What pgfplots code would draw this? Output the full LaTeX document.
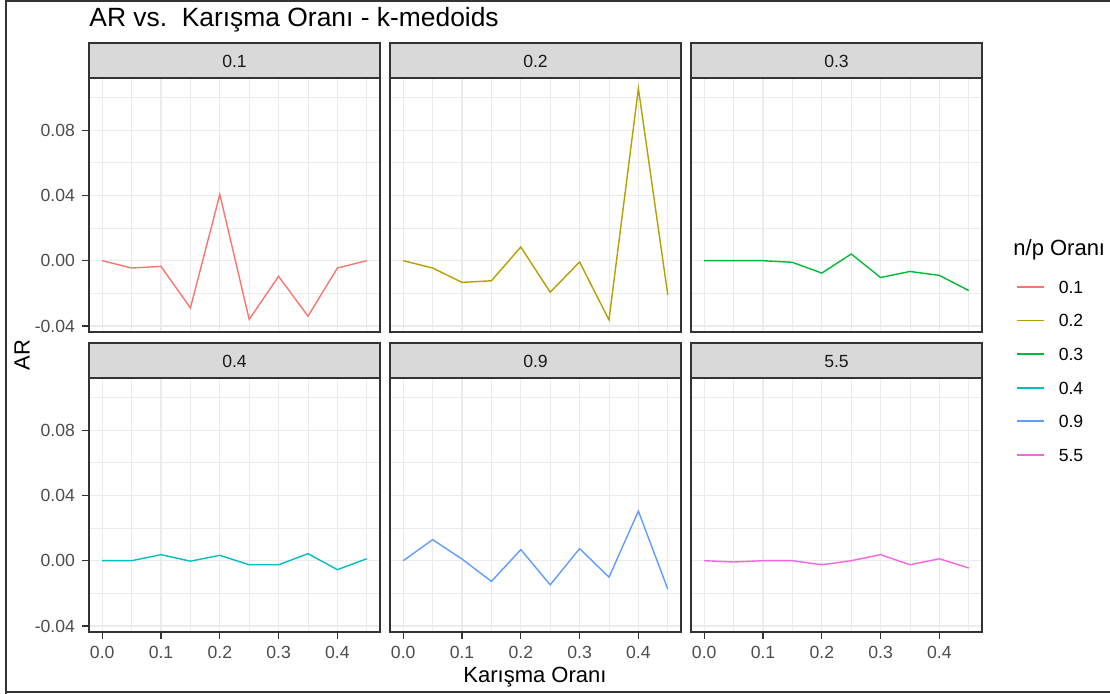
\documentclass[border=0pt]{standalone}
\usepackage{pgfplots}
\pgfplotsset{compat=1.18}
\usepackage{fontspec}
\setmainfont{Liberation Sans}
\definecolor{c1}{HTML}{F8766D}
\definecolor{c2}{HTML}{B79F00}
\definecolor{c3}{HTML}{00BA38}
\definecolor{c4}{HTML}{00BFC4}
\definecolor{c5}{HTML}{619CFF}
\definecolor{c6}{HTML}{F564E3}
\definecolor{gridgrey}{HTML}{EBEBEB}
\definecolor{bordergrey}{HTML}{333333}
\definecolor{tickgrey}{HTML}{4D4D4D}
\definecolor{stripgrey}{HTML}{D9D9D9}
\definecolor{striptext}{HTML}{1A1A1A}

\pgfplotstableread{
x y
0    0
0.05 -0.0045
0.10 -0.0035
0.15 -0.029
0.20 0.0406
0.25 -0.036
0.30 -0.0096
0.35 -0.034
0.40 -0.0045
0.45 0.0
}\tA
\pgfplotstableread{
x y
0    0
0.05 -0.0045
0.10 -0.0133
0.15 -0.0123
0.20 0.0084
0.25 -0.0193
0.30 -0.0008
0.35 -0.0363
0.40 0.1056
0.45 -0.0209
}\tB
\pgfplotstableread{
x y
0    0
0.05 0
0.10 0
0.15 -0.0010
0.20 -0.0076
0.25 0.0041
0.30 -0.0103
0.35 -0.0066
0.40 -0.0090
0.45 -0.0183
}\tC
\pgfplotstableread{
x y
0    0
0.05 0
0.10 0.0037
0.15 -0.0003
0.20 0.0033
0.25 -0.0025
0.30 -0.0025
0.35 0.0043
0.40 -0.0055
0.45 0.0012
}\tD
\pgfplotstableread{
x y
0    0
0.05 0.0129
0.10 0.0010
0.15 -0.0127
0.20 0.0068
0.25 -0.0148
0.30 0.0074
0.35 -0.0101
0.40 0.0304
0.45 -0.0174
}\tE
\pgfplotstableread{
x y
0    0
0.05 -0.0008
0.10 0
0.15 0
0.20 -0.0025
0.25 0
0.30 0.0037
0.35 -0.0025
0.40 0.0012
0.45 -0.0045
}\tF

\pgfplotsset{
  facet/.style={
    scale only axis, width=145.5pt, height=127pt, anchor=south west,
    xmin=-0.0225, xmax=0.4725, ymin=-0.0437, ymax=0.112,
    xtick={0,0.1,0.2,0.3,0.4}, minor xtick={0.05,0.15,0.25,0.35,0.45},
    ytick={-0.04,0,0.04,0.08}, minor ytick={-0.02,0.02,0.06,0.10},
    grid=both,
    major grid style={line width=0.6pt, draw=gridgrey},
    minor grid style={line width=0.4pt, draw=gridgrey},
    axis line style={line width=0.8pt, draw=bordergrey},
    tick align=outside, tick pos=left,
    major tick length=3.5pt, minor tick length=0pt,
    major tick style={line width=0.6pt, draw=bordergrey},
    ticklabel style={font=\fontsize{8.8}{10}\selectfont, text=tickgrey},
    /pgf/number format/assume math mode=true,
    xticklabel style={/pgf/number format/fixed, /pgf/number format/fixed zerofill, /pgf/number format/precision=1},
    yticklabel style={/pgf/number format/fixed, /pgf/number format/fixed zerofill, /pgf/number format/precision=2},
    every axis plot/.append style={line width=0.7pt, mark=none},
  },
  noxlab/.style={xticklabels={}, xtick style={draw=none}},
  noylab/.style={yticklabels={}, ytick style={draw=none}},
}

\begin{document}
\begin{tikzpicture}
\useasboundingbox (0,0) rectangle (555pt,347pt);
% outer frame
\draw[line width=1pt, draw=black!80] (3pt,-1pt) -- (3pt,346.5pt) -- (560pt,346.5pt);
\draw[line width=1pt, draw=black!80] (3pt,1pt) -- (560pt,1pt);

% title and axis titles
\node[anchor=base west, font=\fontsize{13.2}{15}\selectfont, inner sep=0pt] at (44.5pt,333.6pt) {AR vs.\ \ Karışma Oranı - k-medoids};
\node[rotate=90, font=\fontsize{11}{13}\selectfont, inner sep=0pt] at (11pt,169.5pt) {AR};
\node[anchor=base, font=\fontsize{11}{13}\selectfont, inner sep=0pt] at (267.5pt,5.5pt) {Karışma Oranı};

% row 1
\begin{axis}[facet, noxlab, at={(44.5pt,181pt)}]
\addplot[c1] table {\tA};
\end{axis}
\begin{axis}[facet, noxlab, noylab, at={(195pt,181pt)}]
\addplot[c2] table {\tB};
\end{axis}
\begin{axis}[facet, noxlab, noylab, at={(345.5pt,181pt)},
  legend style={draw=none, fill=none, at={(axis description cs:1.1168,0.2024)}, anchor=north west,
    inner sep=0pt, outer sep=0pt, font=\fontsize{8.8}{10}\selectfont,
    nodes={inner sep=0pt, text height=6.4pt, text depth=0pt},
    row sep=10.4pt, /tikz/every odd column/.append style={column sep=7pt}},
  legend cell align=left,
  legend image code/.code={\draw[#1, line width=0.9pt] (0pt,0pt) -- (13.5pt,0pt);}]
\addplot[c3] table {\tC};
\addlegendimage{c1}
\addlegendimage{c2}
\addlegendimage{c3}
\addlegendimage{c4}
\addlegendimage{c5}
\addlegendimage{c6}
\legend{,0.1,0.2,0.3,0.4,0.9,5.5}
\end{axis}
% row 2
\begin{axis}[facet, at={(44.5pt,31pt)}]
\addplot[c4] table {\tD};
\end{axis}
\begin{axis}[facet, noylab, at={(195pt,31pt)}]
\addplot[c5] table {\tE};
\end{axis}
\begin{axis}[facet, noylab, at={(345.5pt,31pt)}]
\addplot[c6] table {\tF};
\end{axis}

% strips
\foreach \xx/\yy/\lab in {44.5/308/0.1, 195/308/0.2, 345.5/308/0.3, 44.5/158/0.4, 195/158/0.9, 345.5/158/5.5}{
  \draw[fill=stripgrey, draw=bordergrey, line width=0.6pt] (\xx pt,\yy pt) rectangle ({\xx pt+145.5pt},{\yy pt+17.5pt});
  \node[anchor=base, font=\fontsize{8.8}{10}\selectfont, text=striptext, inner sep=0pt] at ({\xx pt+72.75pt},{\yy pt+5pt}) {\lab};
}

% legend title
\node[anchor=base west, font=\fontsize{11}{13}\selectfont, inner sep=0pt] at (506.5pt,219.25pt) {n/p Oranı};
\end{tikzpicture}
\end{document}
